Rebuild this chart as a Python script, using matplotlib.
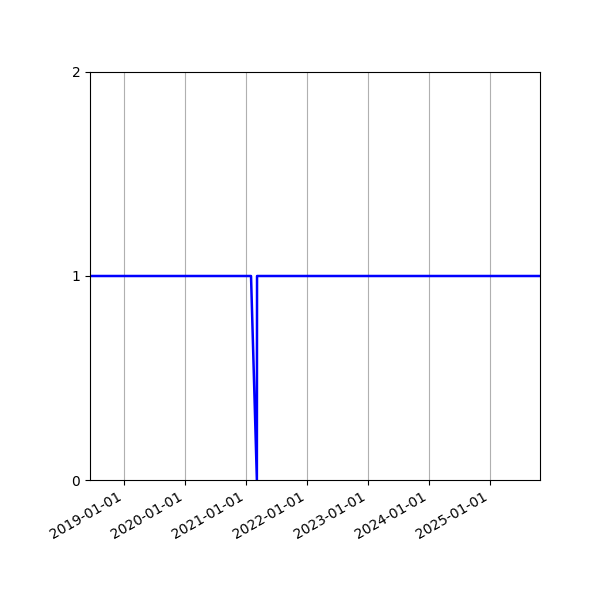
import matplotlib
matplotlib.use("Agg")
import matplotlib.pyplot as plt
import matplotlib.dates as mdates
import pandas as pd

# данные: статус (1 = есть, 0 = нет)
dates = ["2018-06-01", "2021-01-31", "2021-03-07", "2021-03-08", "2025-12-01"]
status = [1, 1, 0, 1, 1]

x_start = "2018-06-12"
x_end = "2025-10-27"

dates = pd.to_datetime(dates)

fig = plt.figure(figsize=(6, 6), dpi=100)
ax = fig.add_axes([0.15, 0.2, 0.75, 0.68])

ax.plot(dates, status, color="blue", linewidth=1.8)

ax.set_xlim(pd.Timestamp(x_start), pd.Timestamp(x_end))
ax.set_ylim(0, 2)
ax.set_yticks([0, 1, 2])
ax.xaxis.set_major_locator(mdates.YearLocator())
ax.xaxis.set_major_formatter(mdates.DateFormatter("%Y-%m-%d"))
ax.grid(True, axis="x", color="#b0b0b0")
ax.set_axisbelow(True)

for lbl in ax.get_xticklabels():
    lbl.set_rotation(30)
    lbl.set_ha("right")

fig.savefig("out.png", dpi=100)
